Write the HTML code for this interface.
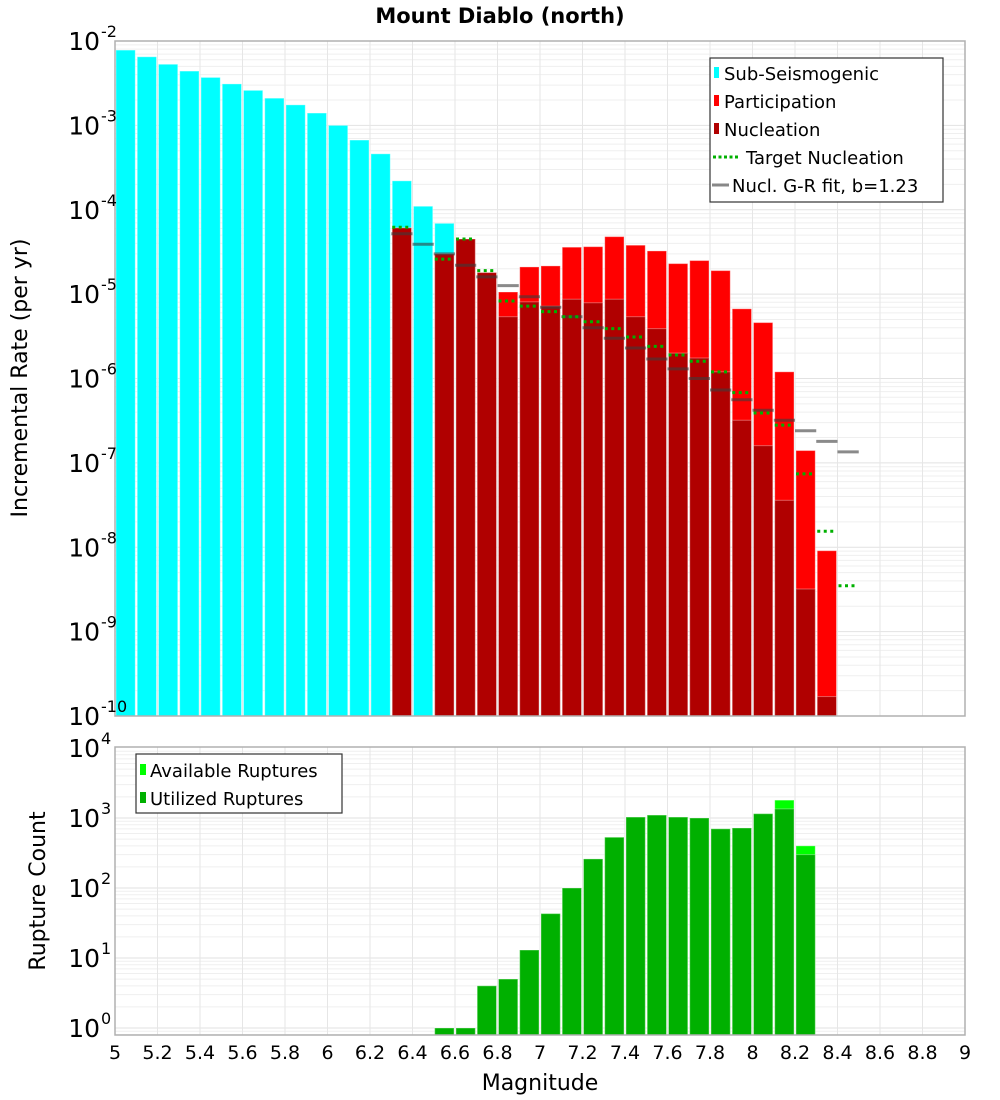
<!DOCTYPE html>
<html><head><meta charset="utf-8"><style>
body{margin:0;background:#fff;}
svg{display:block;font-family:"DejaVu Sans","Liberation Sans",sans-serif;}
</style></head><body>
<svg id="chart" width="1000" height="1100" viewBox="0 0 1000 1100" xmlns="http://www.w3.org/2000/svg">
<text x="500" y="23" text-anchor="middle" font-size="21" font-weight="bold">Mount Diablo (north)</text>
<g id="grid"></g>
<g id="bars"></g>
<g id="lines"></g>
<rect x="115" y="41" width="850" height="675" fill="none" stroke="#b0b0b0" stroke-width="1.5"/>
<rect x="115" y="747" width="850" height="288" fill="none" stroke="#b0b0b0" stroke-width="1.5"/>
<g id="axes"></g>
<text transform="translate(27,378) rotate(-90)" text-anchor="middle" font-size="22">Incremental Rate (per yr)</text>
<text transform="translate(45,891) rotate(-90)" text-anchor="middle" font-size="22">Rupture Count</text>
<text x="540" y="1090" text-anchor="middle" font-size="22">Magnitude</text>
<g>
<rect x="710" y="58" width="233" height="144" fill="#fff" stroke="#333" stroke-width="1.2"/>
<rect x="714" y="67" width="5" height="11" fill="#00ffff"/>
<text x="724" y="80" font-size="18">Sub-Seismogenic</text>
<rect x="714" y="95" width="5" height="11" fill="#ff0000"/>
<text x="724" y="108" font-size="18">Participation</text>
<rect x="714" y="123" width="5" height="11" fill="#b00000"/>
<text x="724" y="136" font-size="18">Nucleation</text>
<line x1="713" y1="157" x2="739" y2="157" stroke="#00b000" stroke-width="3" stroke-dasharray="3,2.5"/>
<text x="746" y="164" font-size="18">Target Nucleation</text>
<line x1="712" y1="185" x2="729" y2="185" stroke="#888" stroke-width="3"/>
<text x="732" y="192" font-size="18">Nucl. G-R fit, b=1.23</text>
</g>
<g>
<rect x="136" y="754" width="206" height="59" fill="#fff" stroke="#333" stroke-width="1.2"/>
<rect x="140" y="764" width="6" height="11" fill="#00ff00"/>
<text x="150" y="777" font-size="18">Available Ruptures</text>
<rect x="140" y="792" width="6" height="11" fill="#00b000"/>
<text x="150" y="805" font-size="18">Utilized Ruptures</text>
</g>
</svg>
<script>
const subSeisBins = [5.0,5.1,5.2,5.3,5.4,5.5,5.6,5.7,5.8,5.9,6.0,6.1,6.2,6.3,6.4,6.5];
const subSeisRates = [7.8e-3,6.5e-3,5.3e-3,4.4e-3,3.7e-3,3.1e-3,2.6e-3,2.1e-3,1.75e-3,1.4e-3,1.0e-3,6.7e-4,4.6e-4,2.2e-4,1.1e-4,6.9e-5];
const supraBins = [6.3,6.4,6.5,6.6,6.7,6.8,6.9,7.0,7.1,7.2,7.3,7.4,7.5,7.6,7.7,7.8,7.9,8.0,8.1,8.2,8.3,8.4];
const participation = [6.1e-5,null,3.0e-5,4.5e-5,1.8e-5,1.06e-5,2.1e-5,2.16e-5,3.6e-5,3.65e-5,4.8e-5,3.8e-5,3.25e-5,2.3e-5,2.5e-5,1.9e-5,6.7e-6,4.6e-6,1.2e-6,1.4e-7,9.1e-9,null];
const nucleation = [6.1e-5,null,3.0e-5,4.5e-5,1.8e-5,5.4e-6,8.1e-6,7.2e-6,8.7e-6,7.9e-6,8.7e-6,5.4e-6,3.9e-6,2.0e-6,1.75e-6,1.2e-6,3.2e-7,1.6e-7,3.6e-8,3.2e-9,1.7e-10,null];
const targetNucl = [6.2e-5,null,2.6e-5,4.5e-5,1.9e-5,8.3e-6,7.2e-6,6.2e-6,5.4e-6,4.7e-6,3.9e-6,3.1e-6,2.4e-6,1.9e-6,1.6e-6,1.2e-6,6.8e-7,3.9e-7,2.8e-7,7.4e-8,1.55e-8,3.5e-9];
const grFit = [5.2e-5,3.9e-5,3.0e-5,2.2e-5,1.6e-5,1.26e-5,9.3e-6,7.0e-6,5.4e-6,4.0e-6,3.0e-6,2.3e-6,1.7e-6,1.3e-6,1.0e-6,7.3e-7,5.6e-7,4.2e-7,3.2e-7,2.4e-7,1.8e-7,1.35e-7];
const countBins = [6.5,6.6,6.7,6.8,6.9,7.0,7.1,7.2,7.3,7.4,7.5,7.6,7.7,7.8,7.9,8.0,8.1,8.2];
const availableCounts = [1,1,4,5,13,43,100,260,530,1030,1100,1030,1000,700,720,1150,1800,400];
const utilizedCounts = [1,1,4,5,13,43,100,260,530,1030,1100,1030,1000,700,720,1150,1350,300];
const xTickLabels = ["5","5.2","5.4","5.6","5.8","6","6.2","6.4","6.6","6.8","7","7.2","7.4","7.6","7.8","8","8.2","8.4","8.6","8.8","9"];
const topExps = [-2,-3,-4,-5,-6,-7,-8,-9,-10];
const bottomExps = [0,1,2,3,4];

const NS="http://www.w3.org/2000/svg";
const X = m => 115 + (m-5)*212.5;
const YT = v => 41 + (-2 - Math.log10(v))*84.375;
const YB = c => 1028 - 70*Math.log10(c);
const BW = 0.1;
function mk(tag, attrs, parent){const e=document.createElementNS(NS,tag);for(const k in attrs)e.setAttribute(k,attrs[k]);parent.appendChild(e);return e;}
const grid=document.getElementById('grid'), bars=document.getElementById('bars'), lines=document.getElementById('lines'), axes=document.getElementById('axes');

// grid
for(let d=-10; d<-2; d++){for(let k=1;k<10;k++){const y=YT(k*Math.pow(10,d)); if(y<41) continue;
  const l=mk('line',{x1:115,x2:965,y1:y,y2:y,stroke:k===1?'#e2e2e2':'#efefef','stroke-width':1},grid);
  
  }}
for(let d=-1; d<4; d++){for(let k=1;k<10;k++){const y=YB(k*Math.pow(10,d)); if(y<747||y>1035) continue;
  const l=mk('line',{x1:115,x2:965,y1:y,y2:y,stroke:k===1?'#e2e2e2':'#efefef','stroke-width':1},grid);
  
  }}
xTickLabels.forEach(t=>{const x=X(parseFloat(t));
  const a=mk('line',{x1:x,x2:x,y1:41,y2:716,stroke:'#e6e6e6'},grid);
  
  
  const b=mk('line',{x1:x,x2:x,y1:747,y2:1035,stroke:'#e6e6e6'},grid);
  
  
  const tx=mk('text',{x:x,y:1059,'text-anchor':'middle','font-size':19},axes);
  tx.textContent=t;
  
  
});
function yLabel(y, exp, name){
  const t=mk('text',{x:100,y:y+9,'text-anchor':'end','font-size':25},axes);
  t.textContent='10';
  
  
  const s=mk('text',{x:101,y:y-4,'font-size':16},axes);
  s.textContent=String(exp);
  
  
}
topExps.forEach(e=>yLabel(YT(Math.pow(10,e)),e,'top-y-tick-label'));
bottomExps.forEach(e=>yLabel(YB(Math.pow(10,e)),e,'bottom-y-tick-label'));

function bar(m, yTop, yBot, fill, name){
  const x0=X(m)+1, x1=X(m+BW)-1;
  const r=mk('rect',{x:x0,y:yTop,width:x1-x0,height:Math.max(0,yBot-yTop),fill:fill,stroke:'rgba(255,255,255,0.35)','stroke-width':1},bars);
  
  
}
subSeisBins.forEach((m,i)=>bar(m,YT(subSeisRates[i]),716,'#00ffff','subseis-bar'));
supraBins.forEach((m,i)=>{ if(participation[i]!=null) bar(m,YT(participation[i]),716,'#ff0000','participation-bar'); });
supraBins.forEach((m,i)=>{ if(nucleation[i]!=null) bar(m,Math.min(716,YT(nucleation[i])),716,'#b00000','nucleation-bar'); });
supraBins.forEach((m,i)=>{ const y=YT(grFit[i]);
  const l=mk('line',{x1:X(m),x2:X(m+BW),y1:y,y2:y,stroke:'rgba(60,60,60,0.6)','stroke-width':3},lines);
  
  
});
supraBins.forEach((m,i)=>{ if(targetNucl[i]==null) return; const y=YT(targetNucl[i]);
  const l=mk('line',{x1:X(m)+1,x2:X(m+BW)-1,y1:y,y2:y,stroke:'#00b000','stroke-width':3,'stroke-dasharray':'3,3.5'},lines);
  
  
});
countBins.forEach((m,i)=>bar(m,YB(availableCounts[i]),1035,'#00ff00','available-ruptures-bar'));
countBins.forEach((m,i)=>bar(m,YB(utilizedCounts[i]),1035,'#00b000','utilized-ruptures-bar'));
</script>
</body></html>
